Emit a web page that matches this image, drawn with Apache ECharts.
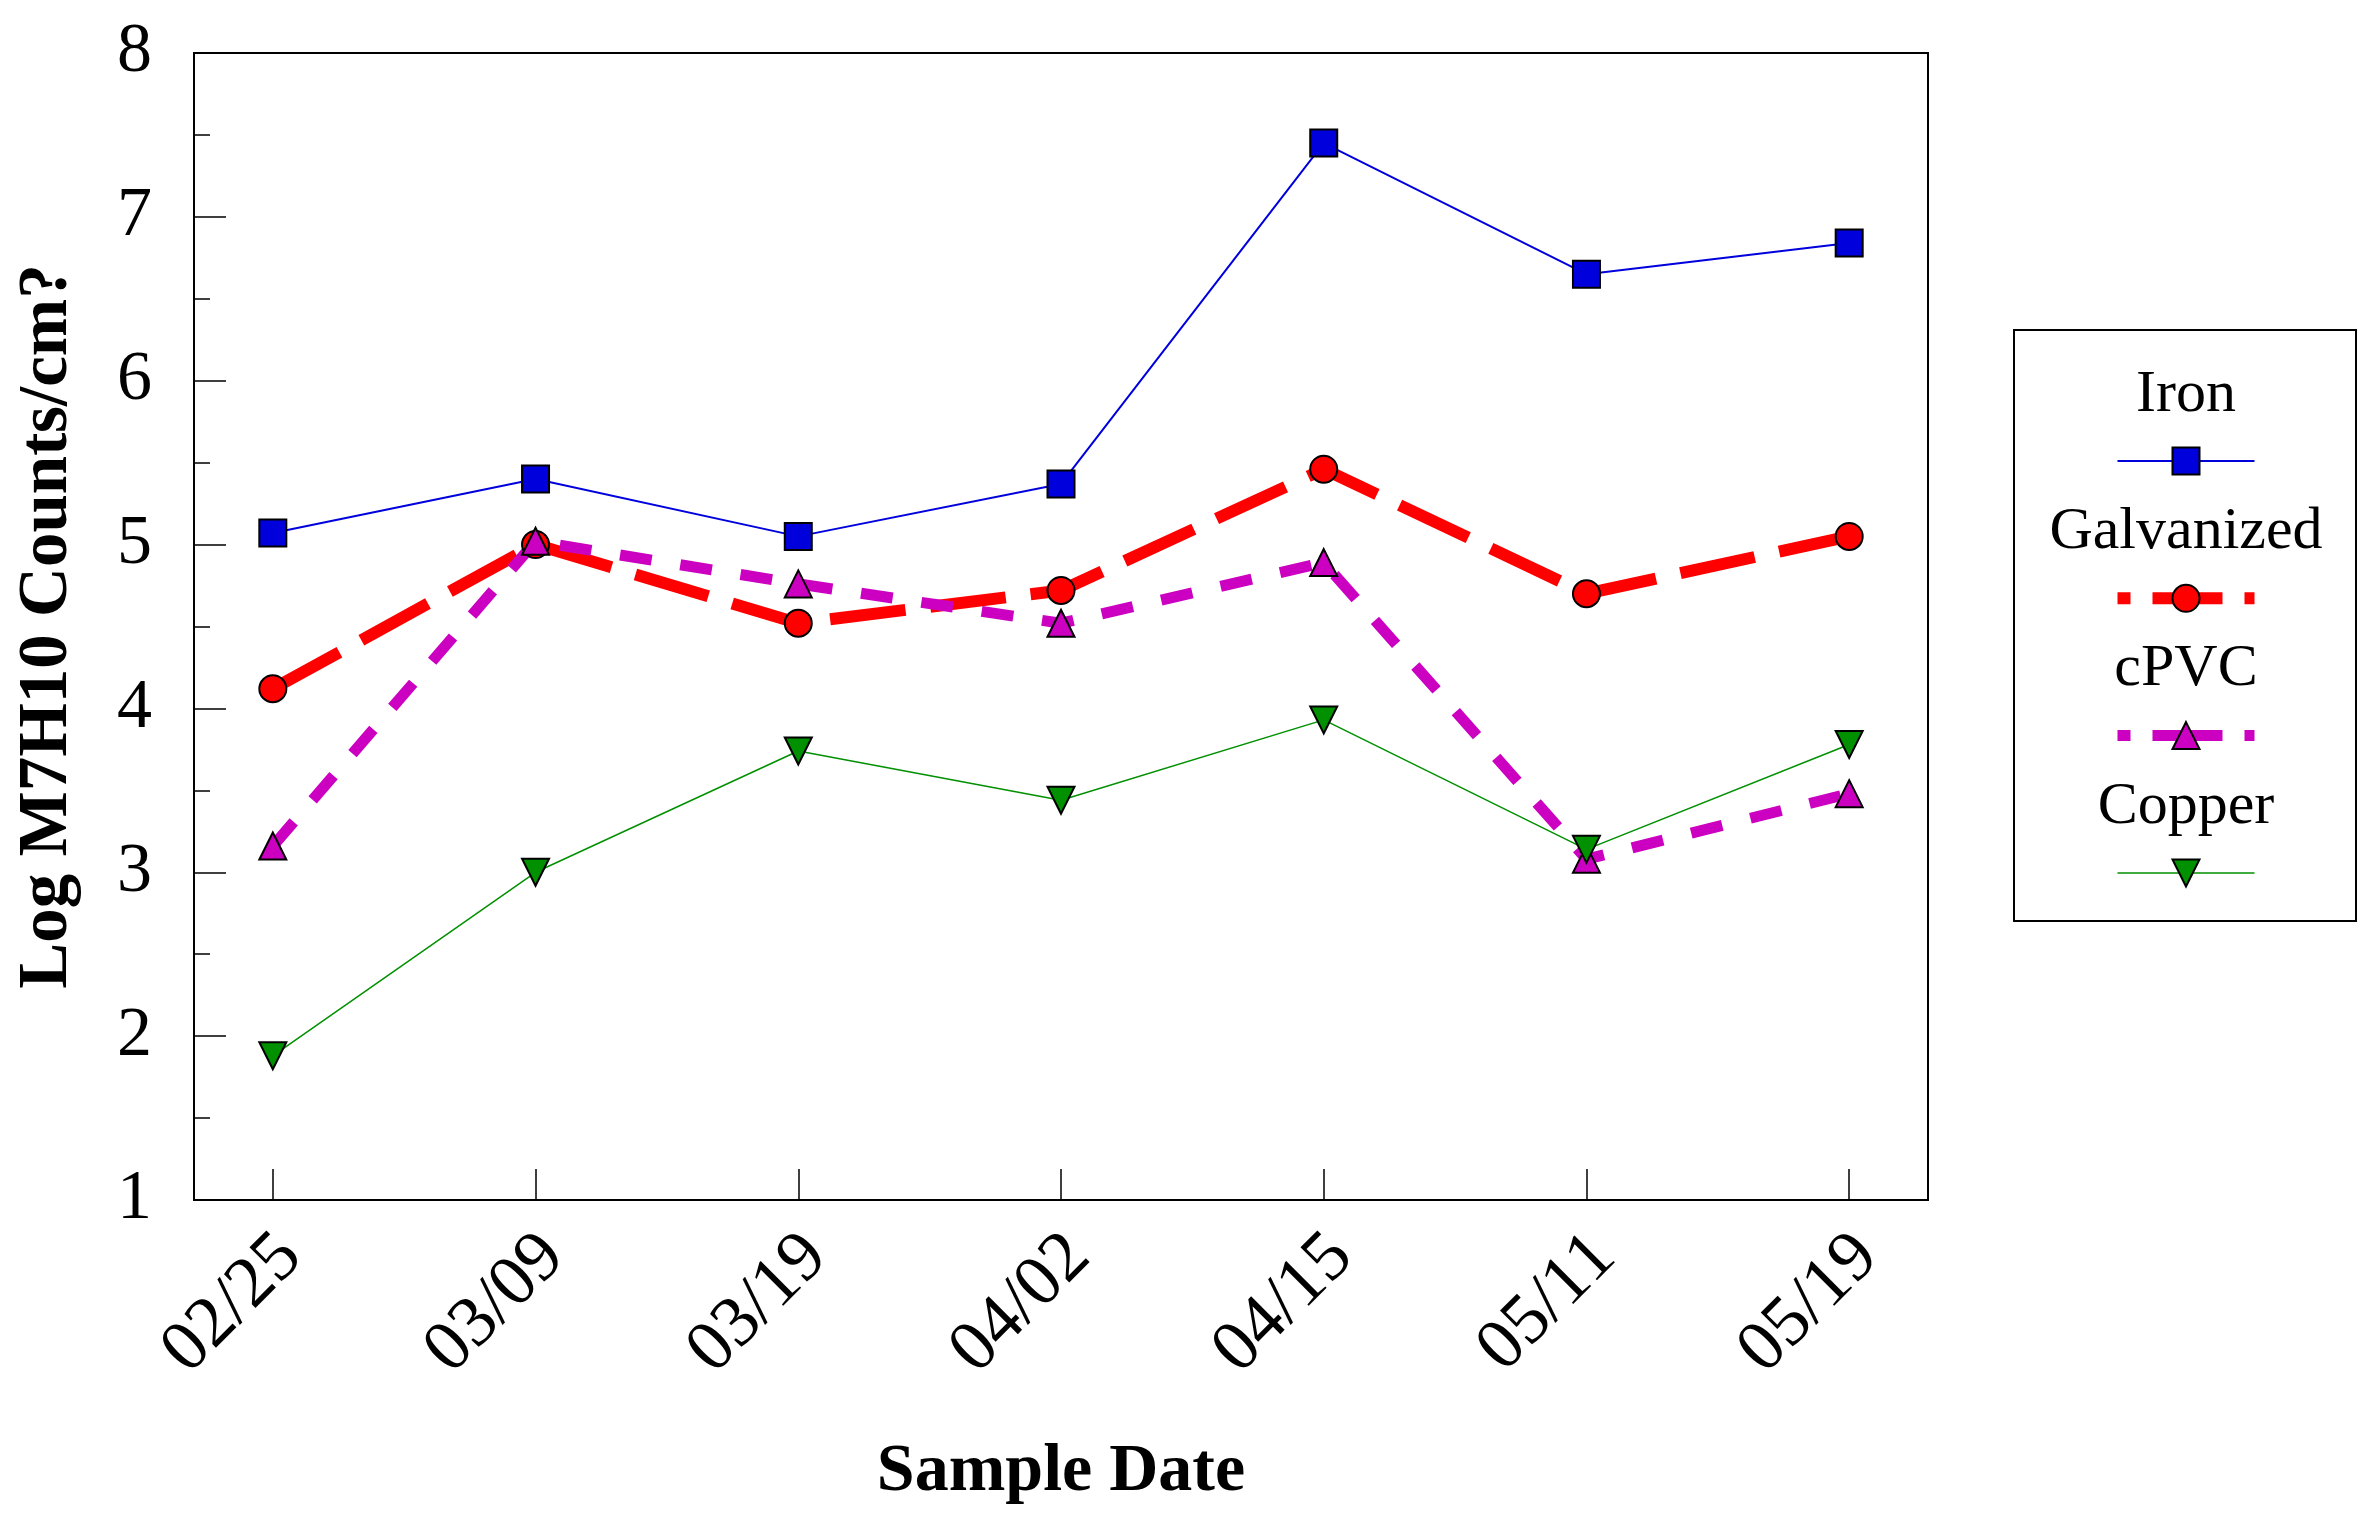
<!DOCTYPE html>
<html>
<head>
<meta charset="utf-8">
<script src="https://cdn.jsdelivr.net/npm/echarts@6/dist/echarts.min.js"></script>
<style>
html,body{margin:0;padding:0;background:#fff;}
#chart{width:2379px;height:1523px;}
</style>
</head>
<body>
<div id="chart"></div>
<script>
// ---- data ----
const categories = ['02/25', '03/09', '03/19', '04/02', '04/15', '05/11', '05/19'];
const iron       = [5.07, 5.40, 5.05, 5.37, 7.45, 6.65, 6.84];
const galvanized = [4.12, 5.00, 4.52, 4.72, 5.46, 4.70, 5.05];
const cpvc       = [3.16, 5.02, 4.76, 4.52, 4.89, 3.08, 3.48];
const copper     = [1.88, 3.00, 3.74, 3.44, 3.93, 3.14, 3.78];
const yTicks     = [1, 2, 3, 4, 5, 6, 7, 8];
const seriesNames = ['Iron', 'Galvanized', 'cPVC', 'Copper'];

// ---- styles ----
const FONT = 'Liberation Serif';
const styles = [
  { color: '#0000dd', width: 2,  dash: 'solid',  symbol: 'rect',     rotate: 0,   legendDash: null },
  { color: '#ff0000', width: 12, dash: [76, 25], symbol: 'circle',   rotate: 0,   legendDash: [70, 22] },
  { color: '#cc00c0', width: 11, dash: [32, 29], symbol: 'triangle', rotate: 0,   legendDash: [70, 22] },
  { color: '#009000', width: 1.5, dash: 'solid', symbol: 'triangle', rotate: 180, legendDash: null }
];
const allData = [iron, galvanized, cpvc, copper];

const series = allData.map((arr, i) => ({
  name: seriesNames[i],
  type: 'line',
  data: arr.map((v, k) => [k, v]),
  symbol: styles[i].symbol,
  symbolRotate: styles[i].rotate,
  symbolSize: 27,
  showAllSymbol: true,
  animation: false,
  lineStyle: { color: styles[i].color, width: styles[i].width, type: styles[i].dash, cap: 'butt' },
  itemStyle: { color: styles[i].color, borderColor: '#000', borderWidth: 2 },
  emphasis: { disabled: true }
}));

// ---- legend drawn with graphics ----
const box = { x: 2014, y: 330, w: 342, h: 591 };
const cx = 2186, step = 137.3, textY0 = 395, lineY0 = 461, halfLine = 68.5, sym = 27;
const graphics = [{
  type: 'rect', shape: { x: box.x, y: box.y, width: box.w, height: box.h },
  style: { fill: '#fff', stroke: '#000', lineWidth: 2 }, z: 10
}];
seriesNames.forEach((name, i) => {
  const st = styles[i];
  const ty = textY0 + i * step, ly = lineY0 + i * step;
  graphics.push({
    type: 'text', x: cx, y: ty, z: 11,
    style: { text: name, font: '60px "' + FONT + '"', fill: '#000', align: 'center', verticalAlign: 'middle' }
  });
  const lineStyle = { stroke: st.color, lineWidth: st.width, lineCap: 'butt' };
  if (st.legendDash) { lineStyle.lineDash = st.legendDash; lineStyle.lineDashOffset = st.legendDash[0] - 13; }
  graphics.push({
    type: 'line', z: 11,
    shape: { x1: cx - halfLine, y1: ly, x2: cx + halfLine, y2: ly },
    style: lineStyle
  });
  const symStyle = { fill: st.color, stroke: '#000', lineWidth: 2 };
  const h = sym / 2;
  if (st.symbol === 'rect') {
    graphics.push({ type: 'rect', z: 12, shape: { x: cx - h, y: ly - h, width: sym, height: sym }, style: symStyle });
  } else if (st.symbol === 'circle') {
    graphics.push({ type: 'circle', z: 12, shape: { cx: cx, cy: ly, r: h }, style: symStyle });
  } else if (st.rotate === 0) {
    graphics.push({ type: 'polygon', z: 12, shape: { points: [[cx, ly - h], [cx + h, ly + h], [cx - h, ly + h]] }, style: symStyle });
  } else {
    graphics.push({ type: 'polygon', z: 12, shape: { points: [[cx - h, ly - h], [cx + h, ly - h], [cx, ly + h]] }, style: symStyle });
  }
});

const chart = echarts.init(document.getElementById('chart'), null, { renderer: 'canvas' });
chart.setOption({
  backgroundColor: '#fff',
  animation: false,
  grid: { left: 194, top: 53, width: 1734, height: 1147, show: true, borderColor: '#000', borderWidth: 2,
    backgroundColor: 'transparent', containLabel: false, outerBoundsMode: 'none' },
  xAxis: {
    type: 'value', min: -0.3, max: 6.3,
    name: 'Sample Date', nameLocation: 'middle', nameGap: 238,
    nameTextStyle: { fontFamily: FONT, fontWeight: 'bold', fontSize: 68, color: '#000' },
    axisLine: { show: true, onZero: false, lineStyle: { color: '#000', width: 2 } },
    axisTick: { show: true, inside: true, length: 31, customValues: categories.map((c, k) => k), lineStyle: { color: '#000', width: 1.5 } },
    axisLabel: { show: true, rotate: 45, margin: 28, align: 'right', verticalAlign: 'top', lineHeight: 51,
      customValues: categories.map((c, k) => k),
      formatter: v => categories[Math.round(v)] || '',
      fontFamily: FONT, fontSize: 72, color: '#000' },
    splitLine: { show: false }
  },
  yAxis: {
    type: 'value', min: yTicks[0], max: yTicks[yTicks.length - 1], interval: 1,
    name: 'Log M7H10 Counts/cm?', nameLocation: 'middle', nameGap: 111, nameRotate: 90,
    nameTextStyle: { fontFamily: FONT, fontWeight: 'bold', fontSize: 69, color: '#000' },
    axisLine: { show: true, onZero: false, lineStyle: { color: '#000', width: 2 } },
    axisTick: { show: true, inside: true, length: 32, lineStyle: { color: '#000', width: 1.5 } },
    minorTick: { show: true, splitNumber: 2, length: 16, lineStyle: { color: '#000', width: 1.5 } },
    axisLabel: { margin: 42, fontFamily: FONT, fontSize: 70, color: '#000' },
    splitLine: { show: false }
  },
  series: series,
  graphic: graphics
});
</script>
</body>
</html>
